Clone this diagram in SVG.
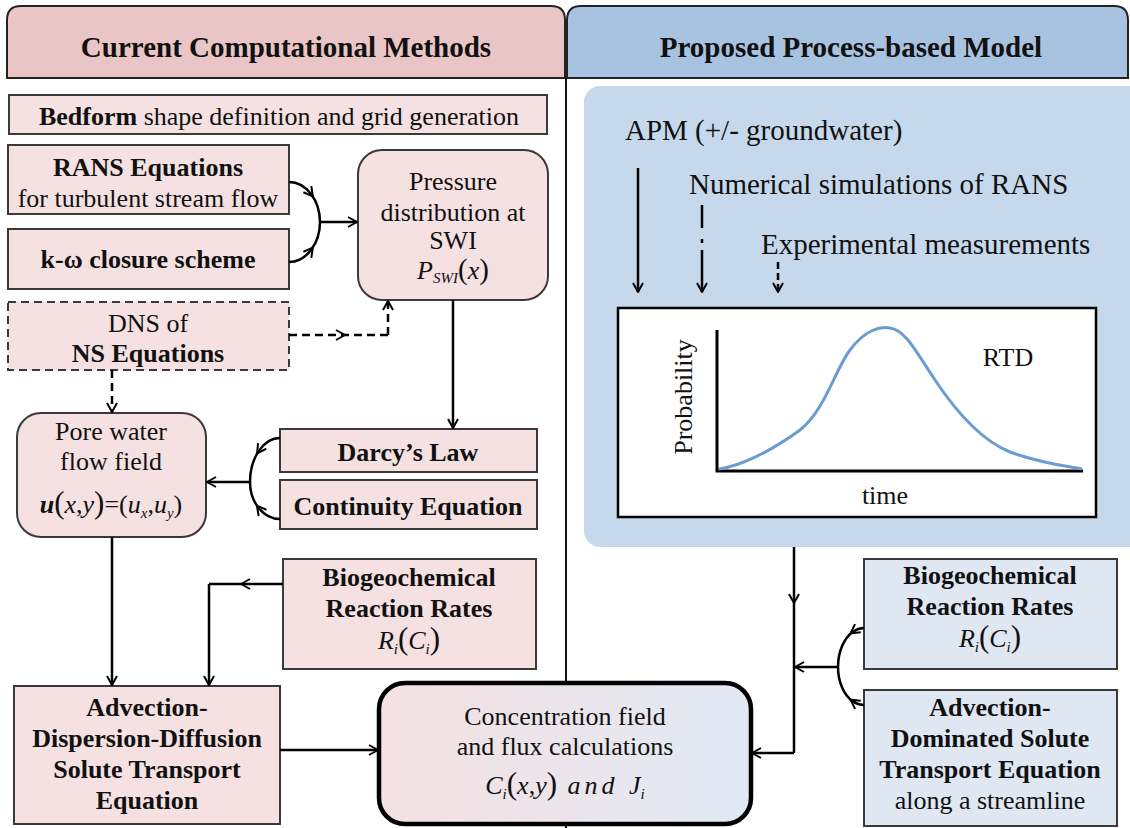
<svg xmlns="http://www.w3.org/2000/svg" width="1130" height="828" viewBox="0 0 1130 828" font-family="Liberation Serif, Tinos, Times New Roman, Times, DejaVu Serif, Noto Serif, FreeSerif, serif">
  <defs>
    <marker id="ah" viewBox="0 0 12 12" refX="11" refY="6" markerWidth="12" markerHeight="12" markerUnits="userSpaceOnUse" orient="auto">
      <path d="M2,1 L11,6 L2,11" fill="none" stroke="#000" stroke-width="2"/>
    </marker>
    <marker id="am" viewBox="0 0 12 12" refX="8" refY="6" markerWidth="12" markerHeight="12" markerUnits="userSpaceOnUse" orient="auto">
      <path d="M2,1 L11,6 L2,11" fill="none" stroke="#000" stroke-width="2"/>
    </marker>
    <linearGradient id="concGrad" x1="0" y1="0" x2="1" y2="0">
      <stop offset="0" stop-color="#f5e1e2"/>
      <stop offset="1" stop-color="#e1e9f4"/>
    </linearGradient>
  </defs>
  <style>
    .t { font-size: 26px; fill: #111; text-anchor: middle; }
    .s { text-anchor: start; font-size: 29px; }
    .b { font-weight: bold; }
    .h { font-size: 29px; font-weight: bold; }
    .i { font-style: italic; }
    .pk { fill: #f5e1e1; stroke: #3a3a3a; stroke-width: 2; }
    .bl { fill: #dfe7f3; stroke: #3a3a3a; stroke-width: 2; }
    .c { fill: none; stroke: #000; stroke-width: 2.5; }
    .d { stroke-dasharray: 8 5; }
  </style>

  <rect width="1130" height="828" fill="#ffffff"/>

  <!-- column headers -->
  <g id="header-current">
    <path d="M7,78 V20 Q7,6 21,6 H551 Q565,6 565,20 V78 Z" fill="#eac5c5" stroke="#222" stroke-width="2"/>
    <text class="t h" x="286" y="57">Current Computational Methods</text>
  </g>
  <g id="header-proposed">
    <path d="M567,78 V20 Q567,6 581,6 H1114 Q1128,6 1128,20 V78 Z" fill="#a8c3e0" stroke="#222" stroke-width="2"/>
    <text class="t h" x="851" y="57">Proposed Process-based Model</text>
  </g>
  <line x1="566" y1="78" x2="566" y2="828" stroke="#111" stroke-width="2"/>

  <!-- left column -->
  <g id="bedform">
    <rect class="pk" x="9" y="95" width="538" height="39"/>
    <text class="t" x="279" y="125"><tspan class="b">Bedform</tspan> shape definition and grid generation</text>
  </g>
  <g id="rans">
    <rect class="pk" x="8" y="145" width="281" height="69"/>
    <text class="t b" x="148" y="176">RANS Equations</text>
    <text class="t" x="148" y="207">for turbulent stream flow</text>
  </g>
  <g id="komega">
    <rect class="pk" x="8" y="229" width="281" height="60"/>
    <text class="t b" x="148" y="268">k-ω closure scheme</text>
  </g>
  <g id="dns">
    <rect class="pk d" x="8" y="302" width="281" height="68"/>
    <text class="t" x="148" y="332">DNS of</text>
    <text class="t b" x="148" y="362">NS Equations</text>
  </g>
  <g id="pressure">
    <rect class="pk" x="358" y="150" width="190" height="150" rx="24"/>
    <text class="t" x="453" y="190">Pressure</text>
    <text class="t" x="453" y="221">distribution at</text>
    <text class="t" x="453" y="249">SWI</text>
    <text class="t" x="453" y="279"><tspan class="i">P</tspan><tspan class="i" font-size="15" dy="4">SWI</tspan><tspan font-size="29" dy="-4">(</tspan><tspan class="i">x</tspan><tspan font-size="29">)</tspan></text>
  </g>
  <g id="pore-water">
    <rect class="pk" x="17" y="413" width="189" height="124" rx="24"/>
    <text class="t" x="111" y="440">Pore water</text>
    <text class="t" x="111" y="470">flow field</text>
    <text class="t" x="111" y="513"><tspan class="i b">u</tspan><tspan font-size="31">(</tspan><tspan class="i">x</tspan>,<tspan class="i">y</tspan><tspan font-size="31">)</tspan>=(<tspan class="i">u</tspan><tspan class="i" font-size="15" dy="5">x</tspan><tspan dy="-5">,</tspan><tspan class="i">u</tspan><tspan class="i" font-size="15" dy="5">y</tspan><tspan dy="-5">)</tspan></text>
  </g>
  <g id="darcy">
    <rect class="pk" x="280" y="429" width="257" height="43"/>
    <text class="t b" x="408" y="461">Darcy’s Law</text>
  </g>
  <g id="continuity">
    <rect class="pk" x="280" y="480" width="257" height="49"/>
    <text class="t b" x="408" y="515">Continuity Equation</text>
  </g>
  <g id="bio-left">
    <rect class="pk" x="283" y="559" width="253" height="110"/>
    <text class="t b" x="409" y="586">Biogeochemical</text>
    <text class="t b" x="409" y="617">Reaction Rates</text>
    <text class="t" x="409" y="649"><tspan class="i">R</tspan><tspan class="i" font-size="15" dy="5">i</tspan><tspan font-size="31" dy="-5">(</tspan><tspan class="i">C</tspan><tspan class="i" font-size="15" dy="5">i</tspan><tspan font-size="31" dy="-5">)</tspan></text>
  </g>
  <g id="add-equation">
    <rect class="pk" x="14" y="686" width="266" height="138"/>
    <text class="t b" x="147" y="716">Advection-</text>
    <text class="t b" x="147" y="747">Dispersion-Diffusion</text>
    <text class="t b" x="147" y="778">Solute Transport</text>
    <text class="t b" x="147" y="809">Equation</text>
  </g>

  <!-- shared output node -->
  <g id="concentration">
    <rect x="379" y="683" width="372" height="141" rx="26" fill="url(#concGrad)" stroke="#000" stroke-width="4.5"/>
    <text class="t" x="565" y="725">Concentration field</text>
    <text class="t" x="565" y="755">and flux calculations</text>
    <text class="t" x="565" y="794"><tspan class="i">C</tspan><tspan class="i" font-size="15" dy="5">i</tspan><tspan font-size="31" dy="-5">(</tspan><tspan class="i">x</tspan>,<tspan class="i">y</tspan><tspan font-size="31">)</tspan><tspan class="i" letter-spacing="4"> and </tspan><tspan class="i">J</tspan><tspan class="i" font-size="15" dy="5">i</tspan></text>
  </g>

  <!-- right column -->
  <g id="rtd-panel">
    <rect x="584" y="86" width="560" height="461" rx="16" fill="#c6d8eb"/>
    <text class="t s" x="625" y="140">APM (+/- groundwater)</text>
    <text class="t s" x="689" y="194">Numerical simulations of RANS</text>
    <text class="t s" x="761" y="254">Experimental measurements</text>
    <rect x="618" y="308" width="478" height="209" fill="#ffffff" stroke="#000" stroke-width="2.5"/>
    <path d="M717,330 V471 H1083" fill="none" stroke="#000" stroke-width="3"/>
    <path d="M719,469 C740,466 770,452 800,430 C825,410 835,370 850,350 C865,330 880,326 890,328 C905,330 915,350 935,380 C955,410 980,440 1010,452 C1040,463 1065,466 1082,469" fill="none" stroke="#6a9bd3" stroke-width="3"/>
    <text class="t" font-size="28" transform="translate(692,397) rotate(-90)">Probability</text>
    <text class="t" font-size="28" x="1008" y="366">RTD</text>
    <text class="t" font-size="28" x="885" y="504">time</text>
  </g>
  <g id="bio-right">
    <rect class="bl" x="864" y="559" width="253" height="110"/>
    <text class="t b" x="990" y="584">Biogeochemical</text>
    <text class="t b" x="990" y="615">Reaction Rates</text>
    <text class="t" x="990" y="647"><tspan class="i">R</tspan><tspan class="i" font-size="15" dy="5">i</tspan><tspan font-size="31" dy="-5">(</tspan><tspan class="i">C</tspan><tspan class="i" font-size="15" dy="5">i</tspan><tspan font-size="31" dy="-5">)</tspan></text>
  </g>
  <g id="adv-streamline">
    <rect class="bl" x="864" y="690" width="253" height="136"/>
    <text class="t b" x="990" y="716">Advection-</text>
    <text class="t b" x="990" y="747">Dominated Solute</text>
    <text class="t b" x="990" y="778">Transport Equation</text>
    <text class="t" x="990" y="809">along a streamline</text>
  </g>

  <!-- connectors -->
  <g id="connectors">
    <!-- RANS + k-omega merge into pressure -->
    <path class="c" d="M289,182 A31,40 0 0 1 311,194 A31,40 0 0 1 320,222" marker-mid="url(#am)"/>
    <path class="c" d="M289,262 A31,40 0 0 0 311,250 A31,40 0 0 0 320,222" marker-mid="url(#am)"/>
    <path class="c" d="M320,222 H357" marker-end="url(#ah)"/>
    <!-- DNS to pressure and pore water -->
    <path class="c d" d="M289,335 L342,335 L388,335" marker-mid="url(#am)"/>
    <path class="c d" d="M388,335 V301" marker-end="url(#ah)"/>
    <path class="c d" d="M112,370 V412" marker-end="url(#ah)"/>
    <!-- pressure to Darcy -->
    <path class="c" d="M453,300 V428" marker-end="url(#ah)"/>
    <!-- Darcy + continuity merge into pore water -->
    <path class="c" d="M280,438 A30,44 0 0 0 258.8,450.9 A30,44 0 0 0 250,482" marker-mid="url(#am)"/>
    <path class="c" d="M280,519 A30,37 0 0 1 258.8,508.2 A30,37 0 0 1 250,482" marker-mid="url(#am)"/>
    <path class="c" d="M250,482 H207" marker-end="url(#ah)"/>
    <!-- pore water and reaction rates into ADD equation -->
    <path class="c" d="M112,537 V685" marker-end="url(#ah)"/>
    <path class="c" d="M283,584 L244,584 L209,584" marker-mid="url(#am)"/>
    <path class="c" d="M209,584 V685" marker-end="url(#ah)"/>
    <!-- ADD equation to concentration -->
    <path class="c" d="M280,750 H378" marker-end="url(#ah)"/>
    <!-- RTD inputs -->
    <path class="c" d="M638,168 V292" marker-end="url(#ah)"/>
    <path class="c" d="M702,205 V292" stroke-dasharray="23 11 4 7 60" marker-end="url(#ah)"/>
    <path class="c" d="M778,262 V292" stroke-dasharray="7 4" marker-end="url(#ah)"/>
    <!-- RTD panel down to concentration -->
    <path class="c" d="M794,547 L794,600 L794,753" marker-mid="url(#am)"/>
    <path class="c" d="M794,753 H752" marker-end="url(#ah)"/>
    <!-- right reaction rates + streamline transport merge -->
    <path class="c" d="M864,628 A26,39 0 0 0 853,631.7 A26,39 0 0 0 838,667" marker-mid="url(#am)"/>
    <path class="c" d="M864,705 A26,38 0 0 1 853,701.4 A26,38 0 0 1 838,667" marker-mid="url(#am)"/>
    <path class="c" d="M838,667 H795" marker-end="url(#ah)"/>
  </g>
</svg>
